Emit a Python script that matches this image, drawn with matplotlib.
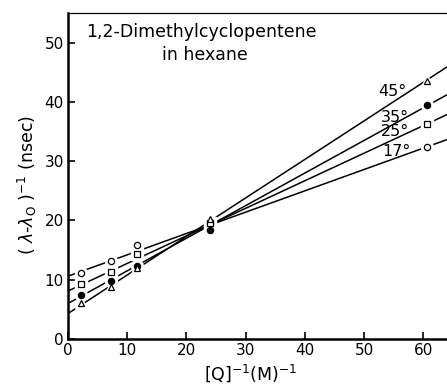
import matplotlib
matplotlib.use("Agg")
import matplotlib.pyplot as plt
import numpy as np

# data
inv_q = [2.2, 7.2, 11.7, 24.0, 60.6]
y17 = [11.1, 13.2, 15.8, 19.5, 32.4]
y25 = [9.3, 11.3, 14.3, 19.6, 36.3]
y35 = [7.4, 9.8, 12.4, 18.4, 39.4]
y45 = [6.1, 8.8, 12.0, 20.3, 43.6]
temps = ["17°", "25°", "35°", "45°"]
intercepts = [10.6, 8.1, 6.0, 4.3]
slopes = [0.36, 0.465, 0.55, 0.65]
x_ticks = [0, 10, 20, 30, 40, 50, 60]
y_ticks = [0, 10, 20, 30, 40, 50]

plt.rcParams['font.family'] = ['DejaVu Sans']
fig = plt.figure(figsize=(4.47, 3.88), dpi=100)
ax = fig.add_axes([68/447, 49/388, 379/447, 326/388])

series = [y17, y25, y35, y45]
markers = ['o', 's', 'o', '^']
faces = ['white', 'white', 'black', 'white']
sizes = [4.5, 4.5, 4.5, 5]
label_pos = [(55.5, 31.6), (55.2, 35.0), (55.2, 37.4), (54.7, 41.7)]

xl = np.array([0, 64])
for i in range(4):
    ax.plot(xl, intercepts[i] + slopes[i] * xl, color='black', lw=1.1, zorder=2)
for i in range(4):
    ax.plot(inv_q, series[i], linestyle='none', marker=markers[i], ms=sizes[i] + 4,
            mfc='white', mec='white', zorder=3)
for i in range(4):
    ax.plot(inv_q, series[i], linestyle='none', marker=markers[i], ms=sizes[i],
            mfc=faces[i], mec='black', mew=0.9, zorder=4)
    ax.text(label_pos[i][0], label_pos[i][1], temps[i], fontsize=11.5,
            ha='center', va='center', zorder=5)

ax.text(22.6, 51.8, "1,2-Dimethylcyclopentene", fontsize=12.5, ha='center', va='center')
ax.text(23.1, 47.9, "in hexane", fontsize=12.5, ha='center', va='center')

ax.set_xlim(0, 64)
ax.set_ylim(0, 55)
ax.set_xticks(x_ticks)
ax.set_yticks(y_ticks)
ax.tick_params(direction='in', length=5, width=1.2, labelsize=11, pad=3)
for s in ['left', 'bottom']:
    ax.spines[s].set_linewidth(1.8)
ax.spines['top'].set_linewidth(0.9)
ax.spines['right'].set_visible(False)

ax.set_xlabel(r"[Q]$^{-1}$(M)$^{-1}$", fontsize=12.5)
ax.xaxis.set_label_coords(0.483, -0.072)
ax.set_ylabel(r"( $\lambda$-$\lambda_{\mathrm{O}}$ )$^{-1}$ (nsec)", fontsize=12.5)
ax.yaxis.set_label_coords(-0.077, 0.472)

fig.savefig("out.png", dpi=100)
